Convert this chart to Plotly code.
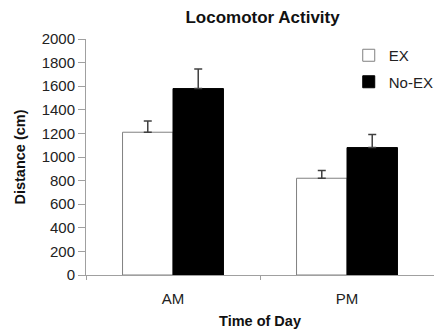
import plotly.graph_objects as go

categories = ["AM", "PM"]
ex_values = [1210, 820]
ex_err = [95, 65]
noex_values = [1580, 1080]
noex_err = [165, 110]
y_ticks = [0, 200, 400, 600, 800, 1000, 1200, 1400, 1600, 1800, 2000]

font = "Liberation Sans, Arial, sans-serif"

fig = go.Figure()
fig.add_trace(go.Bar(
    name="EX", x=categories, y=ex_values, legendgroup="a",
    marker=dict(color="white", line=dict(color="#808080", width=1)),
    error_y=dict(type="data", array=ex_err, arrayminus=[0, 0], symmetric=False,
                 color="#404040", thickness=1.5, width=4),
))
fig.add_trace(go.Bar(
    name="No-EX", x=categories, y=noex_values, legendgroup="b",
    marker=dict(color="black", line=dict(color="black", width=1)),
    error_y=dict(type="data", array=noex_err, arrayminus=[0, 0], symmetric=False,
                 color="#404040", thickness=1.5, width=4),
))

fig.update_layout(
    width=434, height=333,
    margin=dict(l=86, r=0, t=39, b=58, autoexpand=False),
    paper_bgcolor="white", plot_bgcolor="white",
    barmode="group", bargap=0.42, bargroupgap=0,
    font=dict(family=font, size=15, color="#222"),
    title=dict(text="<b>Locomotor Activity</b>", x=0.605, xanchor="center",
               y=0.95, yanchor="middle", font=dict(size=17, color="#111")),
    legend=dict(x=0.755, y=1.0, xanchor="left", yanchor="top",
                bgcolor="rgba(0,0,0,0)", font=dict(size=15, color="#222"),
                itemwidth=30, traceorder="grouped", tracegroupgap=4),
    showlegend=True,
)
fig.update_xaxes(
    showline=True, linecolor="#a0a0a0", linewidth=1,
    ticks="outside", tickson="boundaries", ticklen=4, tickcolor="#a0a0a0",
    ticklabelstandoff=10,
    title=dict(text="<b>Time of Day</b>", font=dict(size=14.5, color="#111"), standoff=9),
    tickfont=dict(size=15), range=[-0.5, 1.5],
)
fig.update_yaxes(
    range=[0, 2000], tickvals=y_ticks, showgrid=False, zeroline=False,
    showline=True, linecolor="#a0a0a0", linewidth=1,
    ticks="outside", ticklen=7, tickcolor="#a0a0a0",
    title=dict(text="<b>Distance (cm)</b>", font=dict(size=14.5, color="#111"), standoff=12),
    tickfont=dict(size=15),
)

fig.write_html("out.html", config={"displayModeBar": False},
               post_script="document.body.style.margin='0';")
